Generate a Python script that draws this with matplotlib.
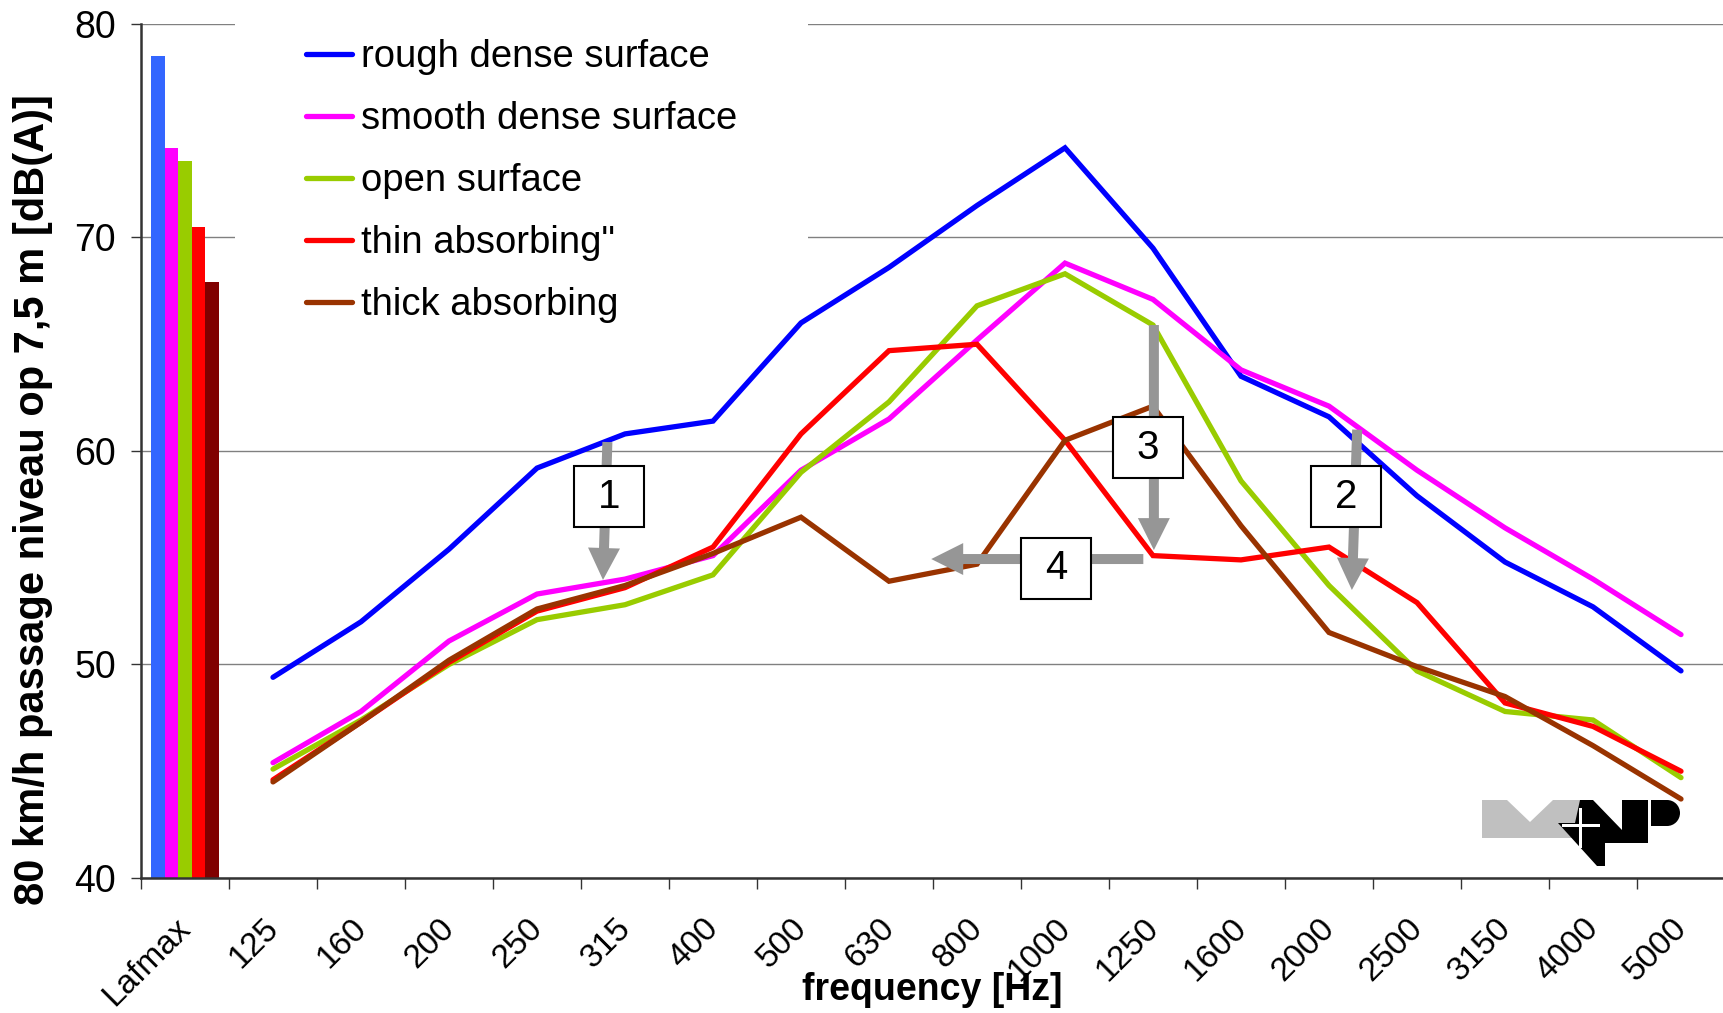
import numpy as np
import matplotlib
matplotlib.use("Agg")
import matplotlib.pyplot as plt
from matplotlib.patches import Rectangle, Polygon, FancyArrowPatch, Wedge
from matplotlib.transforms import ScaledTranslation, Affine2D

plt.rcParams["font.family"] = ["Liberation Sans", "DejaVu Sans"]

categories = ["Lafmax", "125", "160", "200", "250", "315", "400", "500", "630",
              "800", "1000", "1250", "1600", "2000", "2500", "3150", "4000", "5000"]
series_names = ["rough dense surface", "smooth dense surface", "open surface",
                'thin absorbing"', "thick absorbing"]

# Lafmax bars, one per surface
lafmax = [78.5, 74.2, 73.6, 70.5, 67.9]

# third-octave spectra, 125 .. 5000 Hz
rough_dense = [49.4, 52.0, 55.4, 59.2, 60.8, 61.4, 66.0, 68.6, 71.5, 74.2,
               69.5, 63.5, 61.6, 57.9, 54.8, 52.7, 49.7]
smooth_dense = [45.4, 47.8, 51.1, 53.3, 54.0, 55.1, 59.1, 61.5, 65.2, 68.8,
                67.1, 63.8, 62.1, 59.1, 56.4, 54.0, 51.4]
open_surface = [45.1, 47.4, 50.0, 52.1, 52.8, 54.2, 59.0, 62.3, 66.8, 68.3,
                65.9, 58.6, 53.7, 49.7, 47.8, 47.4, 44.7]
thin_absorbing = [44.6, 47.3, 50.1, 52.5, 53.6, 55.5, 60.8, 64.7, 65.0, 60.5,
                  55.1, 54.9, 55.5, 52.9, 48.2, 47.1, 45.0]
thick_absorbing = [44.5, 47.3, 50.2, 52.6, 53.7, 55.2, 56.9, 53.9, 54.7, 60.5,
                   62.1, 56.5, 51.5, 49.9, 48.5, 46.2, 43.7]

line_colors = ["#0000FF", "#FF00FF", "#99CC00", "#FF0000", "#993300"]
bar_colors = ["#3366FF", "#FF00FF", "#99CC00", "#FF0000", "#800000"]

# numbered call-outs
box_labels = ["1", "2", "3", "4"]
box_x = [4.82, 13.19, 10.94, 9.90]
box_y = [57.85, 57.85, 60.16, 54.5]
arrow_from = [(4.80, 60.42), (13.32, 61.0), (11.01, 65.9), (10.89, 54.94)]
arrow_to = [(4.75, 53.96), (13.26, 53.49), (11.01, 55.36), (8.48, 54.94)]

W, H = 1724, 1013
fig = plt.figure(figsize=(W / 100, H / 100), dpi=100)
ax = fig.add_axes([141 / W, 1 - 878 / H, 1584 / W, 854 / H])

x = np.arange(len(categories))
spectra = [rough_dense, smooth_dense, open_surface, thin_absorbing, thick_absorbing]

bw = 0.155
for i, v in enumerate(lafmax):
    ax.bar(x[0] + (i - 2) * bw, v - 40, bottom=40, width=bw, color=bar_colors[i],
           zorder=2)

for name, vals, c in zip(series_names, spectra, line_colors):
    ax.plot(x[1:], vals, color=c, lw=3.8, label=name, zorder=3,
            solid_joinstyle="miter", solid_capstyle="round")

ax.set_xlim(-0.5, 17.5)
ax.set_ylim(40, 80)
ax.set_yticks([40, 50, 60, 70, 80])
ax.set_xticks(x)
ax.set_xticks(np.arange(-0.5, 17.6, 1), minor=True)
ax.set_xticklabels(categories)
ax.tick_params(axis="x", which="major", length=0, pad=25, labelsize=24)
ax.tick_params(axis="x", which="minor", length=8, width=1, color="#333333")
ax.tick_params(axis="y", length=7, width=1, color="#333333", pad=11, labelsize=27)
shift = ScaledTranslation(-10 / 100, 0, fig.dpi_scale_trans)
for lab in ax.get_xticklabels():
    lab.set_rotation(45)
    lab.set_ha("right")
    lab.set_va("top")
    lab.set_rotation_mode("anchor")
    lab.set_transform(lab.get_transform() + shift)

ax.set_axisbelow(True)
ax.grid(axis="y", color="#808080", lw=1)
ax.grid(axis="x", visible=False)
for s in ["top", "right"]:
    ax.spines[s].set_visible(False)
for s in ["left", "bottom"]:
    ax.spines[s].set_color("#333333")
    ax.spines[s].set_linewidth(1.8)

# white area behind the legend hides the grid there
ax.add_patch(Rectangle((0.0593, 0.642), 0.3617, 0.358, transform=ax.transAxes,
                       facecolor="white", edgecolor="none", zorder=1))
ax.legend(loc="upper left", bbox_to_anchor=(0.1042, 0.982), borderaxespad=0,
          borderpad=0, frameon=False, fontsize=27.5, handlelength=1.2,
          handletextpad=0.24, labelspacing=0.68)

for (x0, y0), (x1, y1) in zip(arrow_from, arrow_to):
    ax.add_patch(FancyArrowPatch((x0, y0), (x1, y1),
                                 arrowstyle="simple,head_length=2.3,head_width=2.3,tail_width=0.72",
                                 mutation_scale=10, color="#969696", lw=0,
                                 shrinkA=0, shrinkB=0, zorder=4))
bwid, bhei = 70 / 88, 61 / 21.35
for lab, bx, by in zip(box_labels, box_x, box_y):
    ax.add_patch(Rectangle((bx - bwid / 2, by - bhei / 2), bwid, bhei,
                           facecolor="white", edgecolor="black", lw=1.5, zorder=5))
    ax.text(bx, by, lab, ha="center", va="center", fontsize=29, zorder=6)

fig.text(33 / W, 1 - 500 / H, "80 km/h passage niveau op 7,5 m [dB(A)]",
         rotation=90, ha="center", va="center", fontsize=30, fontweight="bold")
fig.text(932 / W, 1 - 990 / H, "frequency [Hz]", ha="center", va="center",
         fontsize=27, fontweight="bold")

# M+P logo, pixel coordinates from the top-left corner
px = Affine2D().scale(1 / W, -1 / H).translate(0, 1) + fig.transFigure
fig.add_artist(Polygon([(1482, 800), (1507, 800), (1530, 822), (1553, 800),
                        (1580, 800), (1580, 838), (1482, 838)],
                       closed=True, facecolor="#C0C0C0", edgecolor="none", transform=px))
fig.add_artist(Polygon([(1580, 800), (1593, 800), (1622, 830), (1622, 843),
                        (1605, 843), (1605, 866), (1597, 866), (1558, 823), (1575, 823)],
                       closed=True, facecolor="black", edgecolor="none", transform=px))
fig.add_artist(Rectangle((1562, 824), 38, 3, facecolor="white", edgecolor="none",
                         transform=px))
fig.add_artist(Rectangle((1579, 808), 3, 40, facecolor="white", edgecolor="none",
                         transform=px))
fig.add_artist(Rectangle((1622, 800), 26, 43, facecolor="black", edgecolor="none",
                         transform=px))
fig.add_artist(Rectangle((1651, 800), 16, 26, facecolor="black", edgecolor="none",
                         transform=px))
fig.add_artist(Wedge((1667, 813), 13, -90, 90, facecolor="black", edgecolor="none",
                     transform=px))

fig.savefig("out.png", dpi=100, facecolor="white")
